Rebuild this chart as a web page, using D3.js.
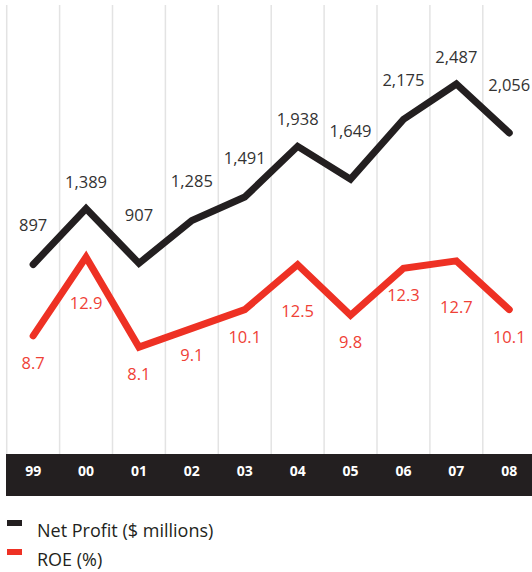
<!DOCTYPE html>
<html>
<head>
<meta charset="utf-8">
<script src="https://cdnjs.cloudflare.com/ajax/libs/d3/7.8.5/d3.min.js"></script>
<style>
  body { margin: 0; background: #fff; }
  text { font-family: "Open Sans", sans-serif; }
</style>
</head>
<body>
<div class="canvas"></div>
<script>
// data
const years = ['99', '00', '01', '02', '03', '04', '05', '06', '07', '08']
const netProfit = [897, 1389, 907, 1285, 1491, 1938, 1649, 2175, 2487, 2056]
const roe = [8.7, 12.9, 8.1, 9.1, 10.1, 12.5, 9.8, 12.3, 12.7, 10.1]
const legendLabels = ['Net Profit ($ millions)', 'ROE (%)']

const dims = { width: 532, height: 572 }
const black = '#231f20'
const red = '#ee3124'

const svg = d3.select('.canvas')
              .append('svg')
              .attr('width', dims.width)
              .attr('height', dims.height)

// scales
const x = d3.scaleBand()
            .domain(years)
            .range([6.7, 535.7])

const yProfit = d3.scaleLinear()
                  .domain([0, 3200])
                  .range([366.3, 3.1])

const yRoe = d3.scaleLinear()
               .domain([0, 20])
               .range([499, 124])

const cx = d => x(d) + x.bandwidth() / 2

// gridlines
svg.append('g')
   .selectAll('line')
   .data(years)
   .enter()
   .append('line')
   .attr('x1', d => x(d))
   .attr('x2', d => x(d))
   .attr('y1', 5)
   .attr('y2', 454)
   .attr('stroke', '#e3e3e3')
   .attr('stroke-width', 1.5)

// dark axis band
svg.append('rect')
   .attr('x', 6)
   .attr('y', 454)
   .attr('width', dims.width - 6)
   .attr('height', 42)
   .attr('fill', black)

const xAxis = d3.axisBottom(x).tickSize(0).tickPadding(0)
const axisG = svg.append('g')
                 .attr('transform', 'translate(0, 466)')
                 .call(xAxis)
axisG.select('.domain').remove()
axisG.selectAll('text')
     .attr('fill', '#fff')
     .attr('font-size', 14)
     .attr('font-weight', 'bold')
     .attr('font-family', '"Open Sans", sans-serif')

// lines
const series = [
  { values: netProfit, y: yProfit, color: black },
  { values: roe, y: yRoe, color: red }
]

series.forEach(s => {
  const line = d3.line()
                 .x((d, i) => cx(years[i]))
                 .y(d => s.y(d))
  svg.append('path')
     .datum(s.values)
     .attr('fill', 'none')
     .attr('stroke', s.color)
     .attr('stroke-width', 7)
     .attr('stroke-linejoin', 'miter')
     .attr('stroke-linecap', 'round')
     .attr('d', line)
})

// point type: peak / coming down / other
const kind = (arr, i) => {
  const prev = arr[i - 1], next = arr[i + 1]
  if (prev !== undefined && next !== undefined && prev < arr[i] && next < arr[i]) return 'peak'
  if (prev !== undefined && prev > arr[i]) return 'down'
  return 'other'
}

// profit labels above
svg.append('g')
   .selectAll('text')
   .data(netProfit)
   .enter()
   .append('text')
   .attr('x', (d, i) => cx(years[i]))
   .attr('y', (d, i) => {
     const k = kind(netProfit, i)
     const off = k === 'peak' ? 21 : k === 'down' ? 42 : 33
     return yProfit(d) - off
   })
   .attr('text-anchor', 'middle')
   .attr('font-size', 16.5)
   .attr('fill', '#333')
   .text(d => d3.format(',')(d))

// roe labels below
svg.append('g')
   .selectAll('text')
   .data(roe)
   .enter()
   .append('text')
   .attr('x', (d, i) => cx(years[i]))
   .attr('y', (d, i) => yRoe(d) + (kind(roe, i) === 'peak' ? 52 : 33))
   .attr('text-anchor', 'middle')
   .attr('font-size', 16.5)
   .attr('fill', '#ef4136')
   .text(d => d.toFixed(1))

// legend
const legend = svg.append('g')
                  .selectAll('g')
                  .data(legendLabels)
                  .enter()
                  .append('g')
                  .attr('transform', (d, i) => `translate(7, ${523 + i * 29})`)

legend.append('rect')
      .attr('x', 0)
      .attr('y', -3)
      .attr('width', 15)
      .attr('height', 6)
      .attr('fill', (d, i) => i === 0 ? black : red)

legend.append('text')
      .attr('x', 30)
      .attr('y', 14)
      .attr('font-size', 18)
      .attr('fill', black)
      .text(d => d)
</script>
</body>
</html>
